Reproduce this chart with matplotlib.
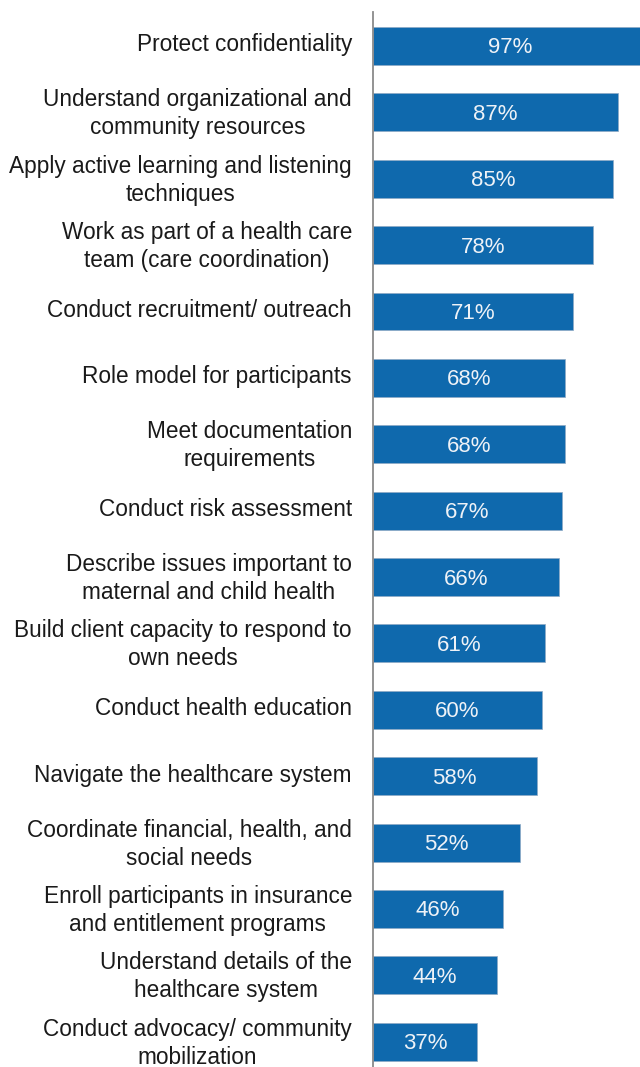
import matplotlib.pyplot as plt
import matplotlib.transforms as mtransforms

skills = [
    "Protect confidentiality",
    "Understand organizational and\ncommunity resources",
    "Apply active learning and listening\ntechniques",
    "Work as part of a health care\nteam (care coordination)",
    "Conduct recruitment/ outreach",
    "Role model for participants",
    "Meet documentation\nrequirements",
    "Conduct risk assessment",
    "Describe issues important to\nmaternal and child health",
    "Build client capacity to respond to\nown needs",
    "Conduct health education",
    "Navigate the healthcare system",
    "Coordinate financial, health, and\nsocial needs",
    "Enroll participants in insurance\nand entitlement programs",
    "Understand details of the\nhealthcare system",
    "Conduct advocacy/ community\nmobilization",
]
pct = [97, 87, 85, 78, 71, 68, 68, 67, 66, 61, 60, 58, 52, 46, 44, 37]

plt.rcParams['font.family'] = ["Liberation Sans", "DejaVu Sans"]

fig = plt.figure(figsize=(6.4, 10.67), dpi=100)
ax = fig.add_axes([373/640, 0, 267/640, 1 - 12/1067])

y = list(range(len(skills)))
ax.barh(y, pct, height=0.57, color="#0f69ad", edgecolor="#8fa9c4", linewidth=0.5)
for yi, v in zip(y, pct):
    ax.text(v / 2, yi + 0.03, f"{v}%", ha="center", va="center", color="#eef2f7", fontsize=16)

ax.set_xlim(0, 94.7)
ax.set_ylim(15.38, -0.51)
ax.set_yticks([])
ax.set_xticks([])

# category labels, right-aligned just left of the axis line
lab_tr = ax.get_yaxis_transform() + mtransforms.ScaledTranslation(-0.21, 0.035, fig.dpi_scale_trans)
for yi, name in zip(y, skills):
    ax.text(0, yi, name, transform=lab_tr, ha="right", va="center_baseline", multialignment="center",
            fontsize=16.3, color="#1a1a1a", linespacing=1.28)

for s in ["top", "right", "bottom"]:
    ax.spines[s].set_visible(False)
ax.spines["left"].set_color("#8a8a8a")
ax.spines["left"].set_linewidth(1.3)

fig.savefig("out.png", dpi=100)
